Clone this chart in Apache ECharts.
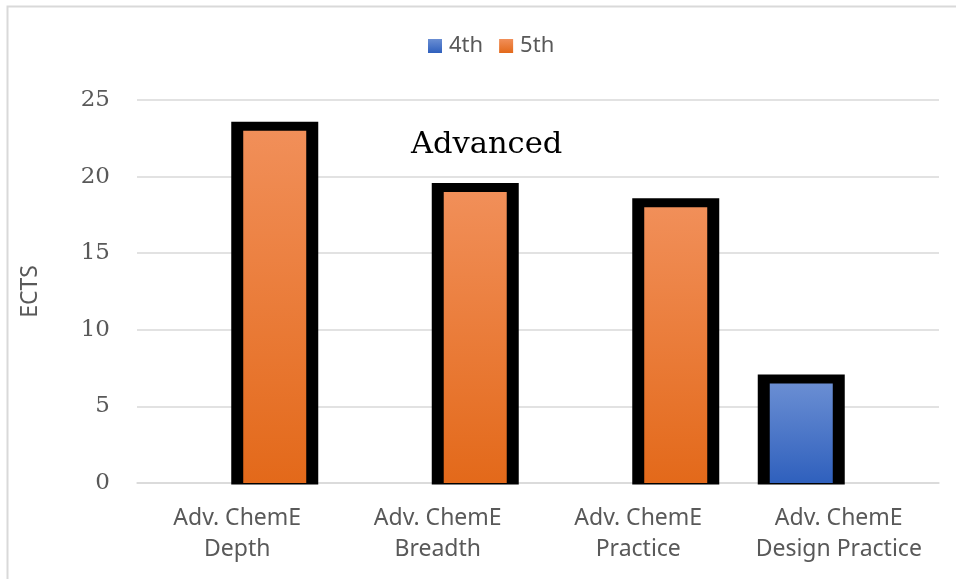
<!DOCTYPE html>
<html>
<head>
<meta charset="utf-8">
<style>
  html, body { margin: 0; padding: 0; background: #fff; }
  #chart { width: 956px; height: 579px; }
</style>
<script src="https://cdn.jsdelivr.net/npm/echarts@6/dist/echarts.min.js"></script>
</head>
<body>
<div id="chart"></div>
<script>
// Course categories and ECTS credits per semester
const categories = ['Adv. ChemE\nDepth', 'Adv. ChemE\nBreadth', 'Adv. ChemE\nPractice', 'Adv. ChemE\nDesign Practice'];
const seriesNames = ['4th', '5th'];
const values4th = [null, null, null, 6.5];
const values5th = [23, 19, 18, null];
const yTicks = [0, 5, 10, 15, 20, 25];
const annotation = 'Advanced';

const FILL_W = 63;      // coloured part of each bar
const SLOT_W = 75;      // distance between the two bar centres in a group
const FRAME_SIDE = 12;  // black outline beyond the fill, left/right
const FRAME_TOP = 9;    // black outline above the fill

function grad(top, bottom) {
  return new echarts.graphic.LinearGradient(0, 0, 0, 1, [
    { offset: 0, color: top },
    { offset: 1, color: bottom }
  ]);
}

// Black outline boxes drawn behind every non-empty bar
const frameData = [];
[values4th, values5th].forEach((vals, si) => {
  vals.forEach((v, ci) => {
    if (v != null) frameData.push([ci, v, si === 0 ? -1 : 1]);
  });
});

const chart = echarts.init(document.getElementById('chart'), null, { renderer: 'canvas' });
chart.setOption({
  animation: false,
  backgroundColor: '#ffffff',
  graphic: [
    {
      type: 'rect', z: 0,
      shape: { x: 7.5, y: 6.5, width: 1000, height: 1000 },
      style: { fill: 'none', stroke: '#d9d9d9', lineWidth: 2 }
    },
    {
      type: 'text', z: 10, left: 411, top: 130,
      style: { text: annotation, font: '30.5px "DejaVu Serif", serif', fill: '#000000' }
    }
  ],
  legend: {
    data: seriesNames,
    top: 30,
    left: 423,
    icon: 'rect',
    itemWidth: 14,
    itemHeight: 14,
    itemGap: 16,
    textStyle: { fontFamily: 'Noto Sans', fontSize: 22, color: '#595959', padding: [0, 0, 0, 2] }
  },
  grid: { left: 137, right: 17, top: 100, bottom: 96 },
  xAxis: {
    type: 'category',
    data: categories,
    axisLine: { show: true, lineStyle: { color: '#d9d9d9', width: 1.5 } },
    axisTick: { show: false },
    axisLabel: {
      fontFamily: 'Noto Sans', fontSize: 23, color: '#595959',
      lineHeight: 31, margin: 20, interval: 0
    }
  },
  yAxis: {
    type: 'value',
    min: 0, max: 25, interval: 5,
    name: 'ECTS',
    nameLocation: 'middle',
    nameGap: 95,
    nameRotate: 90,
    nameTextStyle: { fontFamily: 'Noto Sans', fontSize: 23, color: '#595959' },
    axisLine: { show: false },
    axisTick: { show: false },
    splitLine: { lineStyle: { color: '#d9d9d9', width: 1.5 } },
    axisLabel: {
      fontFamily: '"DejaVu Serif", serif', fontSize: 23, color: '#595959', margin: 27,
      formatter: v => (yTicks.includes(v) ? String(v) : '')
    }
  },
  series: [
    {
      name: 'frame',
      type: 'custom',
      z: 1,
      data: frameData,
      renderItem: function (params, api) {
        const top = api.coord([api.value(0), api.value(1)]);
        const base = api.coord([api.value(0), 0]);
        const cx = top[0] + api.value(2) * SLOT_W / 2;
        return {
          type: 'rect',
          shape: {
            x: cx - FILL_W / 2 - FRAME_SIDE,
            y: top[1] - FRAME_TOP,
            width: FILL_W + FRAME_SIDE * 2,
            height: base[1] - top[1] + FRAME_TOP + 1.5
          },
          style: { fill: '#000000' }
        };
      }
    },
    {
      name: seriesNames[0],
      type: 'bar',
      z: 3,
      data: values4th,
      barWidth: FILL_W,
      barGap: ((SLOT_W - FILL_W) / FILL_W * 100).toFixed(1) + '%',
      itemStyle: { color: grad('#6a8ed3', '#2f60bd') }
    },
    {
      name: seriesNames[1],
      type: 'bar',
      z: 3,
      data: values5th,
      barWidth: FILL_W,
      itemStyle: { color: grad('#f18f59', '#e3691a') }
    }
  ]
});
</script>
</body>
</html>
